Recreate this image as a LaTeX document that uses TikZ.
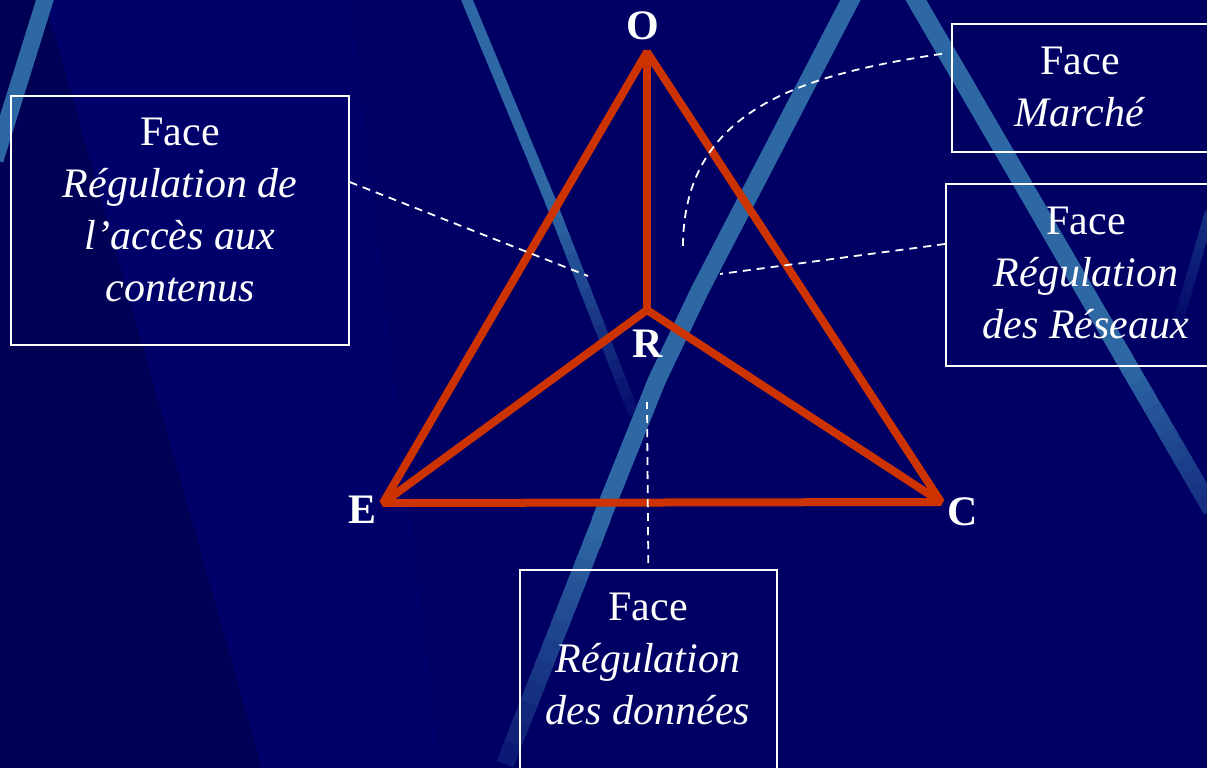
\documentclass[tikz,border=0pt]{standalone}
\usepackage{fontspec}
\setmainfont{Liberation Serif}
\usetikzlibrary{calc}
\definecolor{bgA}{HTML}{000064}
\definecolor{bgDark}{HTML}{000054}
\definecolor{bgLight}{HTML}{00006A}
\definecolor{stripeC}{HTML}{2E68A4}
\definecolor{edgeC}{HTML}{CC3300}
\newcommand\fadestripe[5]{%
  \foreach \i in {0,...,11}{%
    \pgfmathsetmacro\ta{\i/12}%
    \pgfmathsetmacro\tb{min(1,(\i+1.3)/12)}%
    \pgfmathsetmacro\pc{#4-(#4-#5)*\i/11}%
    \draw[line width=#3, stripeC!\pc!bgA] ($#1!\ta!#2$) -- ($#1!\tb!#2$);
  }%
}
\begin{document}
\begin{tikzpicture}[x=1pt,y=-1pt,
  edge/.style={draw=edgeC, line width=8pt, line join=bevel},
  conn/.style={draw=white, line width=1.8pt, dash pattern=on 8pt off 6pt},
  facebox/.style={draw=white, line width=1.6pt, inner sep=0pt, anchor=north west},
  facetext/.style={text=white, align=center, inner sep=0pt, anchor=north, font=\fontsize{42}{52}\selectfont},
  vlabel/.style={text=white, inner sep=0pt, font=\fontsize{42}{42}\selectfont\bfseries},
  stripe/.style={draw=stripeC, line cap=butt, line join=round}]
\useasboundingbox (0,0) rectangle (1207,768);
\clip (0,0) rectangle (1207,768);
% background
\fill[bgA] (0,0) rectangle (1207,768);
\fill[bgDark] (0,0) -- (45,0) -- (262,768) -- (0,768) -- cycle;
\fill[bgLight] (45,0) -- (350,0) -- (440,768) -- (262,768) -- cycle;
% stripes
\draw[stripe, line width=17pt] (48,-10) -- (-5,160);
\draw[stripe, line width=11pt] (465,-5) -- (552,205);
\fadestripe{(550,200)}{(634,414)}{11pt}{100}{15}
\draw[stripe, line width=18pt] (853,-5) -- (700,290) -- (657,380) -- (600,522);
\fadestripe{(602,518)}{(505,764)}{18pt}{100}{25}
\draw[stripe, line width=18pt] (913,-5) -- (1125,360);
\fadestripe{(1122,355)}{(1212,510)}{18pt}{100}{45}
\fadestripe{(1210,212)}{(1178,322)}{10pt}{45}{10}
% vertices
\coordinate (O) at (647,52);
\coordinate (R) at (647,310);
\coordinate (E) at (383,503);
\coordinate (C) at (941,502);
% triangle
\draw[edge] (O) -- (E) -- (C) -- cycle;
\draw[edge] (O) -- (R);
\draw[edge] (R) -- (E);
\draw[edge] (R) -- (C);
% vertex labels
\node[vlabel] (Ol) at (643,26) {O};
\node[vlabel] (Rl) at (648,344) {R};
\node[vlabel] (El) at (363,510) {E};
\node[vlabel] (Cl) at (963,512) {C};
% boxes
\node[facebox, minimum width=338pt, minimum height=249pt] (BL) at (10,95) {};
\node[facebox, minimum width=258pt, minimum height=128pt] (BM) at (951,23) {};
\node[facebox, minimum width=280pt, minimum height=182pt] (BR) at (945,183) {};
\node[facebox, minimum width=257pt, minimum height=220pt] (BD) at (519,569) {};
\node[facetext] (TL) at (180,118) {Face\\\textit{Régulation de}\\\textit{l’accès aux}\\\textit{contenus}};
\node[facetext] (TM) at (1080,47) {Face\\\textit{Marché}};
\node[facetext] (TR) at (1086,207) {Face\\\textit{Régulation}\\\textit{des Réseaux}};
\node[facetext] (TD) at (648,593) {Face\\\textit{Régulation}\\\textit{des données}};
% connector ends
\coordinate (fl) at (588,276);
\coordinate (fm) at (683,247);
\coordinate (fr) at (720,274);
\coordinate (fd) at (647,402);
\draw[conn] ($(BL.north east)+(0,87)$) -- (fl);
\draw[conn] ($(BM.west)+(-9,-34)$) .. controls (800,75) and (683,110) .. (fm);
\draw[conn] ($(BR.north west)+(0,61)$) -- (fr);
\draw[conn] ($(BD.north)+(0,-6)$) -- (fd);
\end{tikzpicture}
\end{document}
